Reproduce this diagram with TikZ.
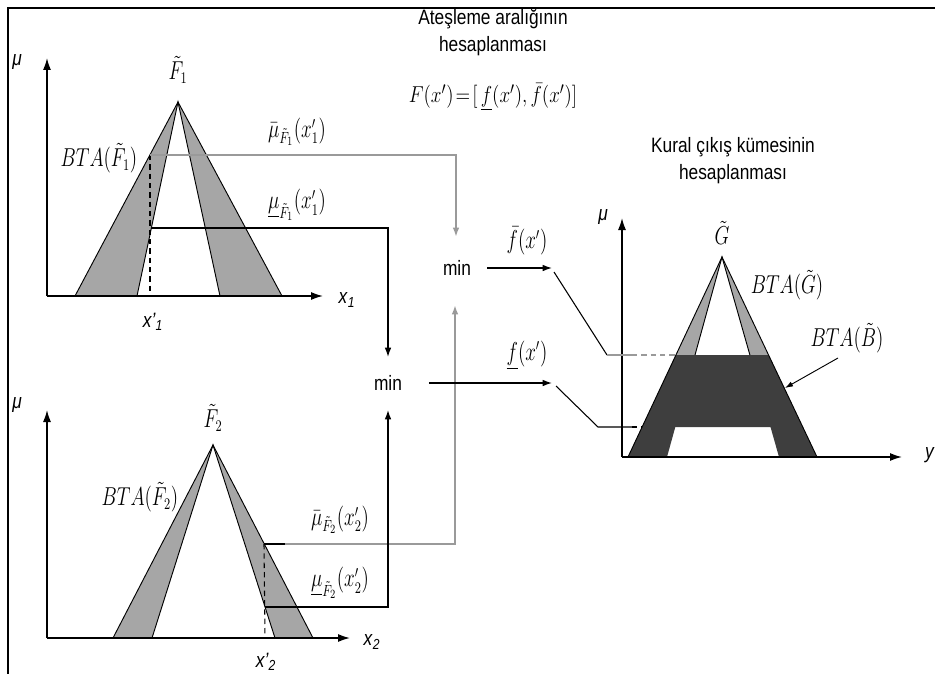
\documentclass[tikz,border=0pt]{standalone}
\usepackage{fontspec}
\usepackage{graphicx}
\setmainfont{Liberation Sans}
\usetikzlibrary{arrows.meta,calc}
\definecolor{shadegray}{HTML}{A6A6A6}
\definecolor{darkfill}{HTML}{3E3E3E}
\definecolor{linegray}{HTML}{9A9A9A}
\newcommand{\vsans}[1]{\scalebox{1}[1.2]{#1}}
\newcommand{\vmath}[1]{\scalebox{1}[1.35]{#1}}
\begin{document}
\begin{tikzpicture}[x=0.75pt,y=-0.75pt,
  txt/.style={font=\fontsize{13}{15}\selectfont, inner sep=0pt},
  mth/.style={font=\fontsize{13.5}{15}\selectfont, inner sep=0pt},
  ax/.style={line width=1.1pt, -{Latex[length=9pt,width=6pt]}},
  edgeline/.style={line width=0.7pt},
  con/.style={line width=1pt, -{Latex[length=7pt,width=5pt]}},
  gcon/.style={con, draw=linegray, line width=1.4pt},
  plain/.style={line width=1pt},
  dsh/.style={line width=0.8pt, dashed, dash pattern=on 4pt off 3pt},
  ]
\useasboundingbox (0,0) rectangle (935,674);
% frame
\draw[line width=1.5pt] (8,674) -- (8,8) -- (935,8);

% ---------- top graph F1 ----------
\coordinate (O1) at (47,296);
\coordinate (A1) at (178,102);
\fill[shadegray] (A1) -- (75,296) -- (137,296) -- cycle;
\fill[shadegray] (A1) -- (220,296) -- (282,296) -- cycle;
\draw[edgeline] (75,296) -- (A1) -- (282,296);
\draw[edgeline] (137,296) -- (A1) -- (220,296);
\draw[ax] (O1) -- (47,58);
\draw[ax] (O1) -- (323,296);
\node[txt] (mu1) at (17,62) {\vsans{\textit{μ}}};
\node[txt] (x1) at (347,300) {\vsans{\textit{x}\textsubscript{\textit{1}}}};
\node[txt] (x1p) at (153,322) {\vsans{\textit{x'}\textsubscript{\textit{1}}}};
\node[mth] (F1) at (178,70) {\vmath{$\tilde{F}_1$}};
\node[mth] (bta1) at (99,158) {\vmath{$BTA(\tilde{F}_1)$}};
\node[mth] (mub1) at (297,132) {\vmath{$\bar{\mu}_{\tilde{F}_1}(x'_1)$}};
\node[mth] (mul1) at (297,205) {\vmath{$\underline{\mu}_{\tilde{F}_1}(x'_1)$}};
\coordinate (p1u) at (150,155);
\coordinate (p1l) at (151,228);
\draw[dsh] (p1u) -- (150,296);

% ---------- bottom graph F2 ----------
\coordinate (O2) at (47,638);
\coordinate (A2) at (213,445);
\fill[shadegray] (A2) -- (113,638) -- (152,638) -- cycle;
\fill[shadegray] (A2) -- (275,638) -- (313,638) -- cycle;
\draw[edgeline] (113,638) -- (A2) -- (313,638);
\draw[edgeline] (152,638) -- (A2) -- (275,638);
\draw[ax] (O2) -- (47,410);
\draw[ax] (O2) -- (350,638);
\node[txt] (mu2) at (17,405) {\vsans{\textit{μ}}};
\node[txt] (x2) at (372,642) {\vsans{\textit{x}\textsubscript{\textit{2}}}};
\node[txt] (x2p) at (266,662) {\vsans{\textit{x'}\textsubscript{\textit{2}}}};
\node[mth] (F2) at (213,418) {\vmath{$\tilde{F}_2$}};
\node[mth] (bta2) at (140,497) {\vmath{$BTA(\tilde{F}_2)$}};
\node[mth] (mub2) at (340,520) {\vmath{$\bar{\mu}_{\tilde{F}_2}(x'_2)$}};
\node[mth] (mul2) at (340,583) {\vmath{$\underline{\mu}_{\tilde{F}_2}(x'_2)$}};
\coordinate (p2u) at (264,544);
\coordinate (p2l) at (265,607);
\draw[dsh] (p2u) -- (265,638);

% ---------- min nodes ----------
\node[txt] (minA) at (457,268) {\vsans{min}};
\node[txt] (minB) at (388,383) {\vsans{min}};

% connectors into min nodes
\draw[gcon] (p1u) -- (456,155) -- (456,237);
\draw[con] (p1l) -- (388,228) -- (388,357);
\draw[gcon] (285,544) -- (455,544) -- (455,305);
\draw[plain] (p2u) -- (285,544);
\draw[con] (p2l) -- (388,607) -- (388,410);

% titles
\node[txt] (t1) at (493,19) {\vsans{Ateşleme aralığının}};
\node[txt] (t2) at (493,46) {\vsans{hesaplanması}};
\node[mth, font=\fontsize{15.5}{17}\selectfont] (Fx) at (493,97)
  {\scalebox{1}[1.2]{$F(x')\!=\!\Bigl[\,\underline{f}(x'),\bar{f}(x')\Bigr]$}};
\node[txt] (t3) at (733,147) {\vsans{Kural çıkış kümesinin}};
\node[txt] (t4) at (733,174) {\vsans{hesaplanması}};

% outputs of min
\coordinate (fA) at (552,268);
\coordinate (fB) at (552,383);
\draw[con] ([xshift=12pt]minA.east) -- (fA);
\draw[con] ([xshift=20pt]minB.east) -- (fB);
\node[mth] (fbar) at (527,241) {\vmath{$\bar{f}(x')$}};
\node[mth] (fund) at (527,355) {\vmath{$\underline{f}(x')$}};

% ---------- output graph ----------
\coordinate (O3) at (622,457);
\coordinate (G) at (722,257);
\fill[shadegray] (G) -- (675.9,355) -- (695.0,355) -- cycle;
\fill[shadegray] (G) -- (749.9,355) -- (768.6,355) -- cycle;
\fill[darkfill] (675.9,355) -- (768.6,355) -- (817,457) -- (779,457) -- (770.5,427)
   -- (675.3,427) -- (667,457) -- (628,457) -- cycle;
\draw[edgeline] (628,457) -- (G) -- (817,457);
\draw[edgeline] (695.0,355) -- (G) -- (749.9,355);
\draw[ax] (O3) -- (622,218);
\draw[ax] (O3) -- (902,457);
\node[txt] (mu3) at (603,217) {\vsans{\textit{μ}}};
\node[txt] (yl) at (930,455) {\vsans{\textit{y}}};
\node[mth] (Gl) at (722,233) {\vmath{$\tilde{G}$}};
\node[mth] (btaG) at (787,285) {\vmath{$BTA(\tilde{G})$}};
\node[mth] (btaB) at (847,338) {\vmath{$BTA(\tilde{B})$}};
\coordinate (bS) at (838,358);
\coordinate (bE) at (785,388);
\draw[line width=0.7pt, -{Latex[length=6pt,width=4pt]}] (bS) -- (bE);

% links from min outputs to the output set
\coordinate (dA) at (607,355);
\coordinate (dB) at (598,427);
\draw[line width=0.8pt] (554,272) -- (dA);
\draw[line width=1.3pt, draw=linegray] (dA) -- (632,355);
\draw[dsh, draw=linegray] (632,355) -- (676,355);
\draw[line width=0.8pt] (556,386) -- (dB) -- (632,427);
\draw[dsh] (632,427) -- (642,427);
\end{tikzpicture}
\end{document}
